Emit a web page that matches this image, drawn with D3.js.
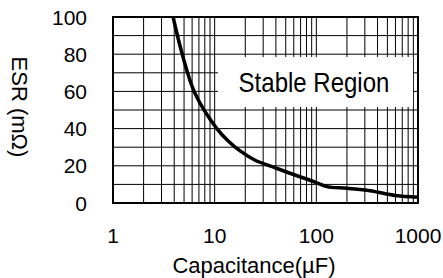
<!DOCTYPE html>
<html>
<head>
<meta charset="utf-8">
<script src="https://cdn.jsdelivr.net/npm/d3@7"></script>
<style>
  body { margin: 0; background: #fff; }
  text { font-family: Arial, "Liberation Sans", sans-serif; fill: #000; }
</style>
</head>
<body>
<div id="chart"></div>
<script>
// ESR vs capacitance
var capacitance = [3.9, 4.8, 6.4, 10.5, 13.5, 17.8, 25, 37.5, 55, 100, 127, 200, 337, 600, 1000];
var esr = [100, 80, 59, 40, 33.5, 28, 23, 19.4, 16, 11, 8.8, 7.9, 6.6, 4, 3.1];

var xTicks = [1, 10, 100, 1000];
var yTicks = [0, 20, 40, 60, 80, 100];

var W = 443, H = 278;
var plotL = 113, plotR = 418, plotT = 17, plotB = 203;

var svg = d3.select('#chart').append('svg')
  .attr('width', W)
  .attr('height', H);

var x = d3.scaleLog().domain([1, 1000]).range([plotL, plotR]);
var y = d3.scaleLinear().domain([0, 100]).range([plotB, plotT]);

// grid: every integer inside each decade, every 10 on y
var xGrid = [];
for (var k = 1; k < 1000; k *= 10) {
  for (var m = 2; m <= 9; m++) xGrid.push(m * k);
}
xGrid.push(10, 100);
var yGrid = d3.range(10, 100, 10);

svg.append('g').selectAll('line')
  .data(xGrid)
  .enter().append('line')
  .attr('x1', d => x(d)).attr('x2', d => x(d))
  .attr('y1', plotT).attr('y2', plotB)
  .style('stroke', '#000').style('stroke-width', 1);

svg.append('g').selectAll('line')
  .data(yGrid)
  .enter().append('line')
  .attr('x1', plotL).attr('x2', plotR)
  .attr('y1', d => y(d)).attr('y2', d => y(d))
  .style('stroke', '#000').style('stroke-width', 1);

// white box behind the label hides the grid
svg.append('rect')
  .attr('x', 218).attr('y', 57)
  .attr('width', 195).attr('height', 50)
  .style('fill', '#fff');

svg.append('text')
  .attr('transform', 'translate(314,92) scale(1,1.15)')
  .attr('text-anchor', 'middle')
  .style('font-size', '24px')
  .text('Stable Region');

// curve
var line = d3.line()
  .x(d => x(d[0]))
  .y(d => y(d[1]))
  .curve(d3.curveCatmullRom.alpha(0.5));

svg.append('path')
  .datum(d3.zip(capacitance, esr))
  .attr('d', line)
  .style('fill', 'none')
  .style('stroke', '#000')
  .style('stroke-width', 3.5)
  .style('stroke-linejoin', 'round');

// frame
svg.append('rect')
  .attr('x', plotL).attr('y', plotT)
  .attr('width', plotR - plotL).attr('height', plotB - plotT)
  .style('fill', 'none')
  .style('stroke', '#000')
  .style('stroke-width', 2);

// tick labels
svg.append('g').selectAll('text')
  .data(yTicks)
  .enter().append('text')
  .attr('x', 87)
  .attr('y', d => y(d))
  .attr('dy', '0.36em')
  .attr('text-anchor', 'end')
  .style('font-size', '21px')
  .text(d => d);

svg.append('g').selectAll('text')
  .data(xTicks)
  .enter().append('text')
  .attr('x', d => x(d))
  .attr('y', 243)
  .attr('text-anchor', 'middle')
  .style('font-size', '21px')
  .text(d => d);

svg.append('text')
  .attr('x', 254).attr('y', 273)
  .attr('text-anchor', 'middle')
  .style('font-size', '22px')
  .text('Capacitance(\u00b5F)');

svg.append('text')
  .attr('transform', 'translate(12,107) rotate(90)')
  .attr('text-anchor', 'middle')
  .style('font-size', '22px')
  .text('ESR (m\u03a9)');
</script>
</body>
</html>
